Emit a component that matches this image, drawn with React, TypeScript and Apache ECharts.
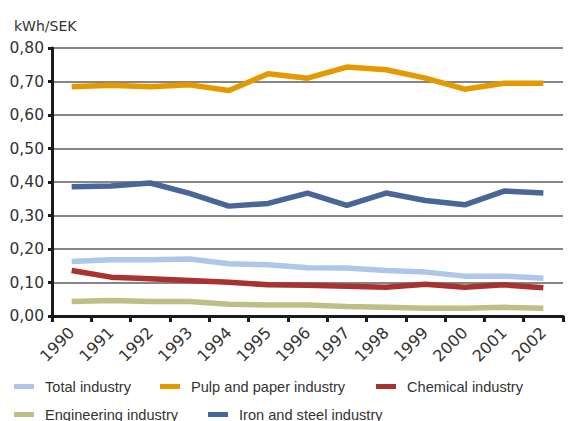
import React, { useEffect, useRef } from "react";
import * as echarts from "echarts";

const years = ["1990","1991","1992","1993","1994","1995","1996","1997","1998","1999","2000","2001","2002"];
const totalIndustry = [0.163,0.168,0.168,0.170,0.156,0.153,0.144,0.143,0.136,0.131,0.119,0.119,0.113];
const pulpPaper = [0.684,0.689,0.684,0.690,0.673,0.723,0.710,0.743,0.735,0.710,0.677,0.695,0.695];
const chemical = [0.136,0.116,0.111,0.106,0.101,0.093,0.092,0.089,0.086,0.095,0.086,0.093,0.084];
const engineering = [0.043,0.046,0.043,0.043,0.035,0.033,0.033,0.028,0.026,0.023,0.023,0.026,0.023];
const ironSteel = [0.386,0.388,0.397,0.366,0.328,0.336,0.367,0.330,0.367,0.345,0.332,0.373,0.367];

const seriesNames = ["Total industry","Pulp and paper industry","Chemical industry","Engineering industry","Iron and steel industry"];
const seriesColors = ["#aec6ea","#e39a00","#a8322f","#bfbf85","#4a6598"];
const seriesData = [totalIndustry, pulpPaper, chemical, engineering, ironSteel];

const legendPos = [
  { left: 14, top: 379 },
  { left: 160, top: 379 },
  { left: 376, top: 379 },
  { left: 14, top: 407 },
  { left: 208, top: 407 },
];

export default function App() {
  const ref = useRef<HTMLDivElement>(null);
  useEffect(() => {
    if (!ref.current) return;
    const chart = echarts.init(ref.current, null, { renderer: "svg" });
    const legendFont = '"Liberation Sans", Arial, sans-serif';
    chart.setOption({
      animation: false,
      backgroundColor: "#ffffff",
      title: {
        text: "kWh/SEK",
        left: 9,
        top: 14,
        textStyle: { fontFamily: "DejaVu Sans", fontSize: 14, fontWeight: "normal", color: "#333" },
      },
      grid: { left: 52, right: 7, top: 48, bottom: 105, containLabel: false },
      legend: seriesNames.map((n, i) => ({
        data: [n],
        left: legendPos[i].left,
        top: legendPos[i].top,
        icon: "rect",
        itemWidth: 20,
        itemHeight: 5,
        padding: 0,
        textStyle: { fontFamily: legendFont, fontSize: 14.6, color: "#333", padding: [0, 0, 0, 6] },
      })),
      xAxis: {
        type: "category",
        data: years,
        boundaryGap: true,
        axisLine: { lineStyle: { color: "#1a1a1a", width: 3 } },
        axisTick: { show: true, length: 6, lineStyle: { color: "#1a1a1a", width: 3 } },
        axisLabel: { rotate: 45, fontFamily: "DejaVu Sans", fontSize: 16, color: "#333", margin: 14 },
        splitLine: { show: false },
      },
      yAxis: {
        type: "value",
        min: 0,
        max: 0.8,
        interval: 0.1,
        axisLine: { show: true, lineStyle: { color: "#1a1a1a", width: 3 } },
        axisTick: { show: true, length: 4, lineStyle: { color: "#1a1a1a", width: 3 } },
        axisLabel: {
          fontFamily: "DejaVu Sans",
          fontSize: 15.5,
          color: "#333",
          margin: 8,
          formatter: (v: number) => v.toFixed(2).replace(".", ","),
        },
        splitLine: { show: true, lineStyle: { color: "#5e5e5e", width: 1.5 } },
      },
      series: seriesNames.map((n, i) => ({
        name: n,
        type: "line",
        data: seriesData[i],
        symbol: "none",
        color: seriesColors[i],
        lineStyle: { width: 5.5, color: seriesColors[i] },
        z: i === 0 ? 2 : 3,
      })),
    });
    return () => chart.dispose();
  }, []);
  return <div ref={ref} style={{ width: 570, height: 421, position: "absolute", left: 0, top: 0 }} />;
}
